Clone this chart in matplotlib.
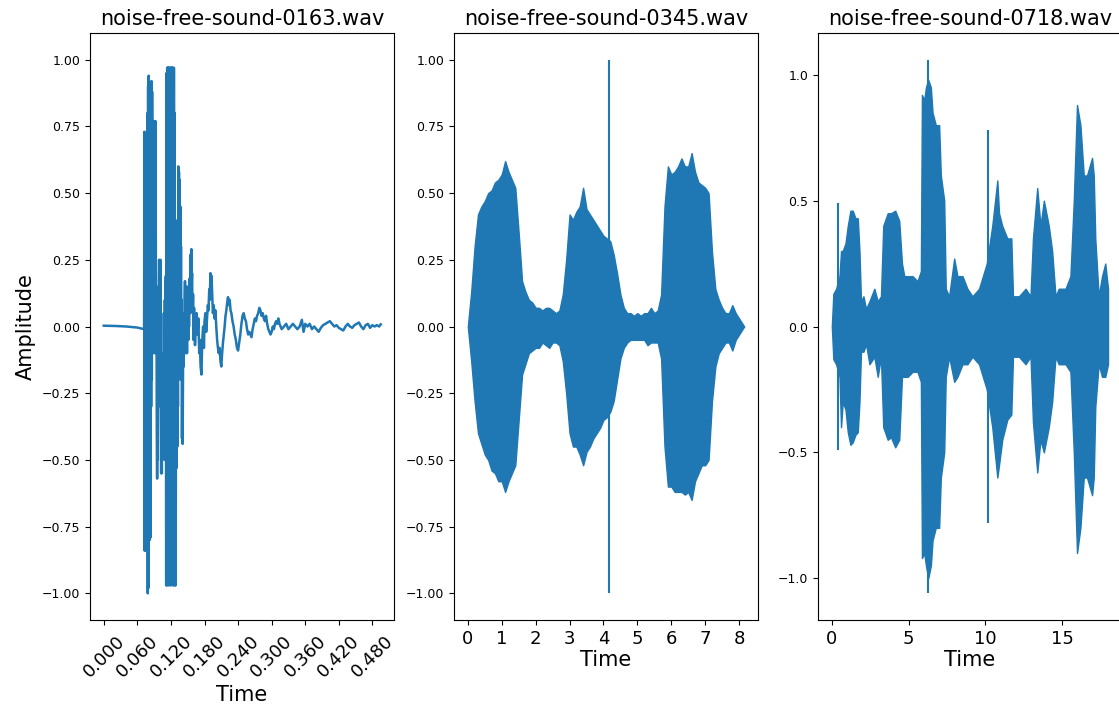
import matplotlib
matplotlib.use("Agg")
import matplotlib.pyplot as plt

# ---------------- data ----------------
titles = ["noise-free-sound-0163.wav", "noise-free-sound-0345.wav", "noise-free-sound-0718.wav"]

# clip 0163: short percussive sound, drawn as a line; (time s, amplitude) pairs
wave1_pre = [(0.000, 0.003), (0.020, 0.002), (0.040, 0.000), (0.060, -0.004), (0.072, -0.010)]
wave1_burst = [
    (0.0726, 0.73), (0.0730, -0.84), (0.0735, 0.70), (0.0740, -0.82), (0.0745, 0.22),
    (0.0750, -0.84), (0.0756, 0.60), (0.0762, -0.78), (0.0768, 0.25), (0.0774, -0.30),
    (0.0780, 0.80), (0.0786, -1.00), (0.0792, 0.90), (0.0797, -0.98), (0.0803, 0.94),
    (0.0809, -0.70), (0.0816, 0.85), (0.0822, -0.80), (0.0828, 0.40), (0.0834, -0.79),
    (0.0840, 0.60), (0.0846, -0.30), (0.0852, 0.92), (0.0858, -0.20), (0.0863, 0.88),
    (0.0869, 0.30), (0.0875, -0.10), (0.0881, 0.75), (0.0887, 0.10), (0.0893, 0.77),
    (0.0899, 0.20), (0.0905, -0.10), (0.0911, 0.60), (0.0917, -0.05), (0.0923, 0.77),
    (0.0929, 0.25), (0.0935, -0.10), (0.0941, 0.15), (0.0947, -0.40), (0.0953, -0.57),
    (0.0959, -0.20), (0.0965, -0.50), (0.0971, 0.05), (0.0977, -0.30), (0.0983, 0.10),
    (0.0989, 0.25), (0.0995, -0.20), (0.1001, 0.22), (0.1007, -0.10), (0.1013, 0.25),
    (0.1019, -0.30), (0.1025, -0.55), (0.1031, -0.20), (0.1037, -0.55), (0.1043, -0.10),
    (0.1049, -0.30), (0.1055, -0.45), (0.1061, -0.15), (0.1067, -0.40), (0.1073, 0.05),
    (0.1079, -0.20), (0.1085, -0.50), (0.1091, 0.10), (0.1097, -0.45), (0.1103, 0.15),
    (0.1109, 0.19), (0.1115, -0.97), (0.1121, 0.95), (0.1127, -0.97), (0.1133, 0.97),
    (0.1139, -0.90), (0.1145, 0.97), (0.1151, -0.97), (0.1157, 0.97), (0.1163, -0.80),
    (0.1169, 0.97), (0.1175, -0.97), (0.1181, 0.95), (0.1187, -0.60), (0.1193, 0.97),
    (0.1199, -0.97), (0.1205, 0.97), (0.1211, -0.90), (0.1217, 0.97), (0.1223, -0.60),
    (0.1229, 0.97), (0.1235, -0.97), (0.1241, 0.90), (0.1247, -0.97), (0.1253, 0.97),
    (0.1259, -0.60), (0.1265, 0.80), (0.1271, -0.97), (0.1277, 0.40), (0.1283, -0.97),
    (0.1289, -0.50), (0.1295, 0.05), (0.1301, -0.53), (0.1307, 0.00), (0.1313, -0.45),
    (0.1319, 0.10), (0.1325, -0.30), (0.1331, 0.60), (0.1337, -0.10), (0.1343, 0.58),
    (0.1349, 0.10), (0.1355, 0.55), (0.1361, -0.10), (0.1367, 0.45), (0.1373, -0.20),
    (0.1379, 0.30), (0.1385, -0.20), (0.1391, 0.10), (0.1397, -0.42), (0.1403, -0.10),
    (0.1409, -0.44), (0.1415, -0.20), (0.1421, 0.05), (0.1427, -0.15), (0.1433, 0.02),
    (0.1439, -0.10), (0.1445, 0.10), (0.1451, 0.17), (0.1457, -0.05), (0.1463, 0.12),
    (0.1469, -0.10), (0.1475, 0.05), (0.1481, 0.15), (0.1487, -0.10), (0.1493, 0.12),
    (0.1499, 0.02), (0.1505, 0.10), (0.1511, -0.05), (0.1517, 0.08), (0.1523, 0.00),
    (0.1529, 0.12), (0.1535, 0.18), (0.1541, 0.05), (0.1547, 0.22), (0.1553, 0.27),
    (0.1559, 0.10), (0.1565, 0.29), (0.1571, 0.15), (0.1577, 0.20), (0.1583, 0.10),
    (0.1589, 0.05), (0.1595, 0.12), (0.1601, -0.05), (0.1607, 0.02), (0.1613, 0.07),
]
wave1_decay = [
    (0.1630, -0.07), (0.1645, 0.00), (0.1660, 0.05), (0.1675, -0.03), (0.1690, 0.03),
    (0.1705, -0.10), (0.1715, -0.05), (0.1730, -0.15), (0.1745, -0.18), (0.1760, -0.05),
    (0.1775, 0.00), (0.1790, -0.08), (0.1800, 0.02), (0.1815, 0.05), (0.1830, -0.02),
    (0.1845, 0.03), (0.1860, 0.08), (0.1870, 0.06), (0.1885, 0.14), (0.1895, 0.10),
    (0.1905, 0.20), (0.1915, 0.12), (0.1925, 0.19), (0.1940, 0.10), (0.1950, 0.05),
    (0.1965, 0.08), (0.1980, 0.03), (0.1995, 0.06), (0.2010, 0.00), (0.2025, -0.05),
    (0.2040, -0.08), (0.2055, -0.10), (0.2070, -0.08), (0.2085, -0.13), (0.2100, -0.15),
    (0.2115, -0.10), (0.2130, -0.06), (0.2145, -0.03), (0.2160, 0.00), (0.2175, 0.04),
    (0.2190, 0.06), (0.2205, 0.09), (0.2220, 0.11), (0.2235, 0.08), (0.2250, 0.10),
    (0.2265, 0.06), (0.2280, 0.05), (0.2300, 0.02), (0.2320, 0.00), (0.2340, -0.03),
    (0.2360, -0.05), (0.2380, -0.08), (0.2400, -0.09), (0.2420, -0.06), (0.2440, -0.03),
    (0.2460, 0.01), (0.2480, 0.04), (0.2500, 0.05), (0.2520, 0.03), (0.2540, 0.02),
    (0.2560, -0.01), (0.2580, -0.03), (0.2600, -0.02), (0.2620, -0.03), (0.2640, -0.04),
    (0.2660, -0.01), (0.2680, 0.01), (0.2700, 0.03), (0.2720, 0.02), (0.2740, 0.04),
    (0.2760, 0.05), (0.2780, 0.07), (0.2800, 0.06), (0.2820, 0.04), (0.2840, 0.05),
    (0.2860, 0.03), (0.2880, 0.02), (0.2900, 0.04), (0.2920, 0.01), (0.2940, -0.01),
    (0.2960, -0.02), (0.2980, -0.03), (0.3000, -0.02), (0.3020, 0.00), (0.3040, -0.01),
    (0.3060, 0.01), (0.3080, 0.02), (0.3100, 0.01), (0.3120, 0.03), (0.3140, 0.01),
    (0.3160, 0.00), (0.3180, -0.01),
]
wave1_tail = [
    (0.3220, 0.000), (0.3260, 0.010), (0.3300, -0.010), (0.3340, 0.000), (0.3380, 0.010),
    (0.3420, 0.000), (0.3460, -0.010), (0.3500, 0.000), (0.3540, 0.025), (0.3570, -0.020),
    (0.3600, 0.010), (0.3640, 0.000), (0.3680, 0.010), (0.3720, -0.010), (0.3760, 0.000),
    (0.3800, -0.010), (0.3840, -0.020), (0.3880, -0.005), (0.3920, 0.005), (0.3960, 0.010),
    (0.4000, 0.015), (0.4040, 0.020), (0.4080, 0.010), (0.4120, 0.000), (0.4160, 0.005),
    (0.4200, -0.005), (0.4240, -0.010), (0.4280, -0.015), (0.4320, 0.000), (0.4360, 0.010),
    (0.4400, 0.000), (0.4440, -0.005), (0.4480, 0.005), (0.4520, 0.010), (0.4560, 0.015),
    (0.4600, 0.000), (0.4640, -0.010), (0.4680, 0.005), (0.4720, 0.010), (0.4760, -0.005),
    (0.4800, 0.005), (0.4840, 0.000), (0.4880, 0.005), (0.4920, 0.000), (0.4950, 0.008),
]

# clip 0345: three vowel-like bursts, envelope (time s, upper, lower)
t2 = [0.0, 0.1, 0.2, 0.3, 0.4, 0.5, 0.6, 0.7, 0.8, 0.9,
      1.0, 1.1, 1.2, 1.3, 1.4, 1.5, 1.6, 1.7, 1.8, 1.9,
      2.0, 2.1, 2.2, 2.3, 2.4, 2.5, 2.6, 2.7, 2.8, 2.9,
      3.0, 3.1, 3.2, 3.3, 3.4, 3.5, 3.6, 3.7, 3.8, 3.9,
      4.0, 4.1, 4.2, 4.3, 4.4, 4.5, 4.6, 4.7, 4.8, 4.9,
      5.0, 5.1, 5.2, 5.3, 5.4, 5.5, 5.6, 5.7, 5.8, 5.9,
      6.0, 6.1, 6.2, 6.3, 6.4, 6.5, 6.6, 6.7, 6.8, 6.9,
      7.0, 7.1, 7.2, 7.3, 7.4, 7.5, 7.6, 7.7, 7.8, 7.9,
      8.0, 8.1, 8.15]
up2 = [0.00, 0.13, 0.30, 0.42, 0.45, 0.47, 0.50, 0.51, 0.54, 0.55,
       0.57, 0.62, 0.58, 0.55, 0.52, 0.35, 0.17, 0.13, 0.10, 0.09,
       0.07, 0.07, 0.06, 0.07, 0.07, 0.06, 0.05, 0.06, 0.12, 0.25,
       0.42, 0.40, 0.43, 0.45, 0.52, 0.44, 0.42, 0.40, 0.38, 0.36,
       0.34, 0.33, 0.32, 0.27, 0.20, 0.12, 0.07, 0.05, 0.05, 0.04,
       0.05, 0.04, 0.05, 0.05, 0.07, 0.05, 0.06, 0.12, 0.45, 0.60,
       0.57, 0.58, 0.60, 0.63, 0.60, 0.60, 0.65, 0.58, 0.54, 0.53,
       0.52, 0.50, 0.28, 0.14, 0.10, 0.07, 0.05, 0.05, 0.08, 0.05,
       0.03, 0.01, 0.00]
lo2 = [0.00, -0.13, -0.28, -0.40, -0.44, -0.48, -0.50, -0.54, -0.55, -0.58,
       -0.58, -0.62, -0.58, -0.55, -0.52, -0.35, -0.18, -0.14, -0.10, -0.09,
       -0.08, -0.08, -0.06, -0.07, -0.08, -0.06, -0.06, -0.07, -0.13, -0.25,
       -0.40, -0.45, -0.45, -0.48, -0.52, -0.47, -0.45, -0.42, -0.40, -0.38,
       -0.35, -0.34, -0.32, -0.28, -0.20, -0.12, -0.08, -0.06, -0.05, -0.05,
       -0.05, -0.05, -0.05, -0.07, -0.06, -0.06, -0.06, -0.12, -0.45, -0.60,
       -0.60, -0.62, -0.62, -0.62, -0.63, -0.62, -0.65, -0.58, -0.55, -0.52,
       -0.52, -0.50, -0.28, -0.15, -0.10, -0.08, -0.06, -0.06, -0.09, -0.05,
       -0.03, -0.01, 0.00]
click2_t = [4.15]
click2_amp = [1.00]

# clip 0718: speech-like bursts, envelope (time s, upper, lower)
t3 = [0.00, 0.10, 0.28, 0.50, 0.60, 0.71, 0.89, 1.04, 1.21, 1.36,
      1.54, 1.69, 1.80, 1.90, 2.06, 2.23, 2.45, 2.77, 2.99, 3.20,
      3.35, 3.64, 3.85, 4.13, 4.39, 4.57, 4.72, 4.94, 5.26, 5.58,
      5.80, 5.87, 6.02, 6.13, 6.28, 6.45, 6.56, 6.77, 6.99, 7.10,
      7.32, 7.42, 7.64, 7.97, 8.18, 8.51, 8.83, 9.16, 9.59, 10.09,
      10.45, 10.78, 10.89, 11.10, 11.43, 11.69, 11.80, 12.19, 12.62, 12.94,
      13.10, 13.38, 13.59, 13.81, 14.13, 14.35, 14.57, 14.78, 15.22, 15.54,
      15.76, 15.97, 16.19, 16.41, 16.62, 16.95, 17.06, 17.16, 17.38, 17.60,
      17.81, 17.99]
up3 = [0.00, 0.13, 0.15, 0.20, 0.30, 0.30, 0.33, 0.40, 0.46, 0.46,
       0.43, 0.43, 0.30, 0.10, 0.12, 0.07, 0.10, 0.15, 0.10, 0.12,
       0.40, 0.45, 0.45, 0.46, 0.42, 0.25, 0.20, 0.20, 0.20, 0.18,
       0.22, 0.92, 0.90, 0.95, 0.98, 0.95, 0.85, 0.80, 0.80, 0.60,
       0.50, 0.15, 0.12, 0.27, 0.20, 0.20, 0.15, 0.12, 0.15, 0.25,
       0.40, 0.58, 0.45, 0.40, 0.35, 0.35, 0.12, 0.12, 0.15, 0.12,
       0.35, 0.55, 0.40, 0.50, 0.40, 0.30, 0.12, 0.15, 0.15, 0.20,
       0.50, 0.88, 0.80, 0.60, 0.60, 0.67, 0.60, 0.35, 0.12, 0.20,
       0.25, 0.15]
lo3 = [0.00, -0.13, -0.15, -0.20, -0.40, -0.30, -0.33, -0.42, -0.47, -0.46,
       -0.43, -0.42, -0.30, -0.10, -0.10, -0.07, -0.15, -0.12, -0.20, -0.12,
       -0.40, -0.45, -0.44, -0.48, -0.45, -0.20, -0.20, -0.20, -0.18, -0.18,
       -0.22, -0.92, -0.90, -0.95, -1.00, -0.95, -0.85, -0.80, -0.80, -0.60,
       -0.50, -0.20, -0.12, -0.22, -0.20, -0.15, -0.15, -0.12, -0.15, -0.25,
       -0.40, -0.60, -0.55, -0.45, -0.37, -0.35, -0.12, -0.12, -0.15, -0.12,
       -0.38, -0.58, -0.45, -0.50, -0.40, -0.30, -0.12, -0.15, -0.15, -0.18,
       -0.50, -0.90, -0.80, -0.60, -0.60, -0.67, -0.60, -0.32, -0.15, -0.20,
       -0.20, -0.15]
click3_t = [0.39, 6.28, 10.19]
click3_amp = [0.49, 1.06, 0.78]

# tick values
xt1 = [0.000, 0.060, 0.120, 0.180, 0.240, 0.300, 0.360, 0.420, 0.480]
yt12 = [-1.00, -0.75, -0.50, -0.25, 0.00, 0.25, 0.50, 0.75, 1.00]
xt2 = [0, 1, 2, 3, 4, 5, 6, 7, 8]
xt3 = [0, 5, 10, 15]
yt3 = [-1.0, -0.5, 0.0, 0.5, 1.0]

# ---------------- drawing ----------------
C = "#1f77b4"
W, H = 1119, 705
fig = plt.figure(figsize=(W / 100, H / 100), dpi=100)

def add_ax(x0, x1):
    return fig.add_axes([x0 / W, (H - 620) / H, (x1 - x0) / W, 587 / H])

ax1 = add_ax(90, 394)
ax2 = add_ax(454, 758)
ax3 = add_ax(818, 1122)

def minus(s):
    return s.replace("-", "\u2212")

TFS = 15
# panel 1
wave1 = wave1_pre + wave1_burst + wave1_decay + wave1_tail
t1 = [p[0] for p in wave1]
a1 = [p[1] for p in wave1]
ax1.plot(t1, a1, color=C, lw=1.8)
ax1.set_xlim(-0.0247, 0.5187)
ax1.set_ylim(-1.1, 1.1)
ax1.set_xticks(xt1)
ax1.set_xticklabels([f"{v:.3f}" for v in xt1], rotation=45, fontsize=13)
ax1.tick_params(axis="x", pad=5)
ax1.set_yticks(yt12)
ax1.set_yticklabels([minus(f"{v:.2f}") for v in yt12], fontsize=9)
ax1.set_ylabel("Amplitude", fontsize=TFS)
ax1.set_xlabel("Time", fontsize=TFS, labelpad=3)

# panel 2
ax2.fill_between(t2, lo2, up2, color=C, lw=1.0, edgecolor=C)
ax2.vlines(click2_t, [-a for a in click2_amp], click2_amp, color=C, lw=1.5)
ax2.set_xlim(-0.4075, 8.5575)
ax2.set_ylim(-1.1, 1.1)
ax2.set_xticks(xt2)
ax2.set_xticklabels([str(v) for v in xt2], fontsize=13)
ax2.set_yticks(yt12)
ax2.set_yticklabels([minus(f"{v:.2f}") for v in yt12], fontsize=9)
ax2.set_xlabel("Time", fontsize=TFS, labelpad=2)

# panel 3
ax3.fill_between(t3, lo3, up3, color=C, lw=1.0, edgecolor=C)
ax3.vlines(click3_t, [-a for a in click3_amp], click3_amp, color=C, lw=1.5)
ax3.set_xlim(-0.9, 18.9)
ax3.set_ylim(-1.166, 1.166)
ax3.set_xticks(xt3)
ax3.set_xticklabels([str(v) for v in xt3], fontsize=13)
ax3.set_yticks(yt3)
ax3.set_yticklabels([minus(f"{v:.1f}") for v in yt3], fontsize=9)
ax3.set_xlabel("Time", fontsize=TFS, labelpad=2)

for ax, title in zip([ax1, ax2, ax3], titles):
    ax.set_title(title, fontsize=TFS)

fig.savefig("out.png", dpi=100)
